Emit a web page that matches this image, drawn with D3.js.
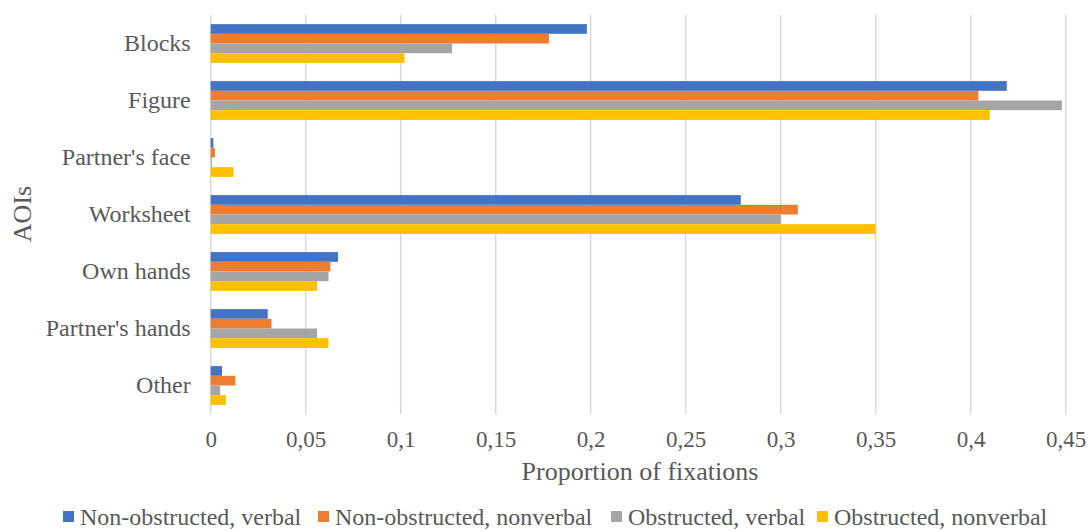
<!DOCTYPE html>
<html>
<head>
<meta charset="utf-8">
<script src="https://cdn.jsdelivr.net/npm/d3@7"></script>
<style>
  html, body { margin: 0; padding: 0; background: #fff; }
  svg, svg text { font-family: "Liberation Serif", "Times New Roman", serif !important; }
</style>
</head>
<body>
<svg id="chart" width="1092" height="531"></svg>
<script>
const categories = ["Blocks", "Figure", "Partner's face", "Worksheet", "Own hands", "Partner's hands", "Other"];
const seriesNames = ["Non-obstructed, verbal", "Non-obstructed, nonverbal", "Obstructed, verbal", "Obstructed, nonverbal"];
const nonObstructedVerbal    = [0.198, 0.419, 0.0014, 0.279, 0.067, 0.030, 0.006];
const nonObstructedNonverbal = [0.178, 0.404, 0.0022, 0.309, 0.063, 0.032, 0.013];
const obstructedVerbal       = [0.127, 0.448, 0.0006, 0.300, 0.062, 0.056, 0.005];
const obstructedNonverbal    = [0.102, 0.410, 0.012, 0.350, 0.056, 0.062, 0.008];
const seriesColors = ["#4472C4", "#ED7D31", "#A5A5A5", "#FFC000"];
const xTicks = [0, 0.05, 0.1, 0.15, 0.2, 0.25, 0.3, 0.35, 0.4, 0.45];
const xTickLabels = ["0", "0,05", "0,1", "0,15", "0,2", "0,25", "0,3", "0,35", "0,4", "0,45"];

const seriesValues = [nonObstructedVerbal, nonObstructedNonverbal, obstructedVerbal, obstructedNonverbal];

const svg = d3.select("#chart");
const textColor = "#595959";

const x = d3.scaleLinear().domain([0, 0.45]).range([210.7, 1065.7]);
const y = d3.scaleBand().domain(categories).range([15, 414]).paddingInner(0.32).paddingOuter(0.16);
const ySub = d3.scaleBand().domain(d3.range(seriesNames.length)).range([0, y.bandwidth()]);

// gridlines
svg.append("g").selectAll("line").data(xTicks).join("line")
  .attr("x1", d => x(d)).attr("x2", d => x(d))
  .attr("y1", 15).attr("y2", 414)
  .attr("stroke", "#d9d9d9").attr("stroke-width", 1.5);

// bars
const groups = svg.append("g").selectAll("g").data(categories).join("g")
  .attr("transform", c => `translate(0,${y(c)})`);
groups.selectAll("rect")
  .data((c, ci) => seriesValues.map((vals, si) => ({ si, v: vals[ci] })))
  .join("rect")
  .attr("x", x(0))
  .attr("y", d => ySub(d.si))
  .attr("width", d => x(d.v) - x(0))
  .attr("height", ySub.bandwidth())
  .attr("fill", d => seriesColors[d.si]);

// x axis
const xAxis = d3.axisBottom(x).tickValues(xTicks)
  .tickFormat((d, i) => xTickLabels[i]).tickSize(0).tickPadding(0);
const gx = svg.append("g").attr("transform", "translate(0,431)").call(xAxis)
  .attr("font-family", null).attr("font-size", null);
gx.select(".domain").remove();
gx.selectAll("text").attr("fill", textColor).style("font-size", "23px").attr("dy", "0.71em");

// y axis
const yAxis = d3.axisLeft(y).tickSize(0).tickPadding(20);
const gy = svg.append("g").attr("transform", `translate(${x(0)},0)`).call(yAxis)
  .attr("font-family", null).attr("font-size", null);
gy.select(".domain").remove();
gy.selectAll("text").attr("fill", textColor).style("font-size", "24px").attr("dy", "0.33em");

// axis titles
svg.append("text").attr("x", 640).attr("y", 480).attr("text-anchor", "middle")
  .attr("fill", textColor).style("font-size", "26px").text("Proportion of fixations");
svg.append("text").attr("transform", "translate(31,214) rotate(-90)").attr("text-anchor", "middle")
  .attr("fill", textColor).style("font-size", "26px").text("AOIs");

// legend
const legendX = [63, 318, 611, 817];
const lg = svg.append("g").selectAll("g").data(seriesNames).join("g")
  .attr("transform", (d, i) => `translate(${legendX[i]},517)`);
lg.append("rect").attr("x", 0).attr("y", -6).attr("width", 11).attr("height", 11)
  .attr("fill", (d, i) => seriesColors[i]);
lg.append("text").attr("x", 17).attr("y", 0).attr("dy", "0.33em")
  .attr("fill", textColor).style("font-size", "24px").text(d => d);
</script>
</body>
</html>
